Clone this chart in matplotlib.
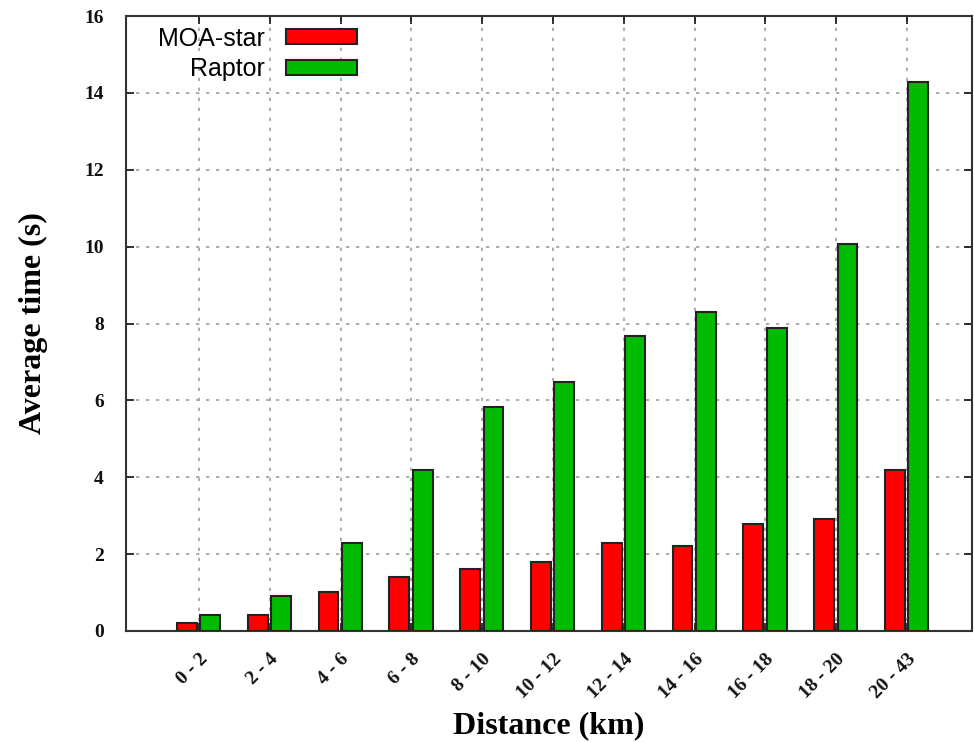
import numpy as np
import matplotlib.pyplot as plt

# Average query time per distance bucket
distances = ['0 - 2', '2 - 4', '4 - 6', '6 - 8', '8 - 10', '10 - 12',
             '12 - 14', '14 - 16', '16 - 18', '18 - 20', '20 - 43']
moa_star = [0.21, 0.42, 1.01, 1.41, 1.62, 1.80, 2.29, 2.20, 2.79, 2.91, 4.20]
raptor = [0.42, 0.91, 2.29, 4.20, 5.82, 6.48, 7.68, 8.30, 7.88, 10.08, 14.28]

x = np.arange(len(distances))
width = 0.28

fig = plt.figure(figsize=(9.74, 7.42), dpi=100)
ax = fig.add_axes([0.1294, 0.1496, 0.8686, 0.8288])

ax.bar(x - 0.17, moa_star, width, color='#ff0000', edgecolor='#222222',
       linewidth=1.5, label='MOA-star', zorder=3)
ax.bar(x + 0.16, raptor, width, color='#00bb00', edgecolor='#222222',
       linewidth=1.5, label='Raptor', zorder=3)

ax.set_xlim(-1.03, 10.92)
ax.set_ylim(0, 16)
ax.set_yticks(np.arange(0, 17, 2))
ax.set_xticks(x)
ax.set_xticklabels(distances, rotation=45, ha='right', va='top',
                   rotation_mode='anchor', fontfamily='Liberation Serif',
                   fontweight='bold', fontsize=14)
for lbl in ax.get_yticklabels():
    lbl.set_fontfamily('Liberation Serif')
    lbl.set_fontweight('bold')
    lbl.set_fontsize(14)

ax.tick_params(axis='both', direction='in', length=6, width=1.2,
               top=True, right=True, colors='#111111')
ax.tick_params(axis='y', pad=16)
ax.tick_params(axis='x', pad=14)

ax.grid(True, color='#a0a0a0', linestyle=(0, (2, 4)), linewidth=1.2, zorder=0)
ax.set_axisbelow(True)
for sp in ax.spines.values():
    sp.set_linewidth(1.5)
    sp.set_color('#333333')

ax.set_xlabel('Distance (km)', fontfamily='Liberation Serif',
              fontweight='bold', fontsize=23, labelpad=7)
ax.set_ylabel('Average time (s)', fontfamily='Liberation Serif',
              fontweight='bold', fontsize=23, labelpad=26)

ax.legend(loc='upper left', bbox_to_anchor=(0.026, 0.999), frameon=False,
          markerfirst=False, handlelength=2.85, handleheight=0.52,
          handletextpad=0.85, labelspacing=0.27, borderaxespad=0.0,
          prop={'family': 'Liberation Sans', 'size': 18})

fig.savefig('out.png', dpi=100)
